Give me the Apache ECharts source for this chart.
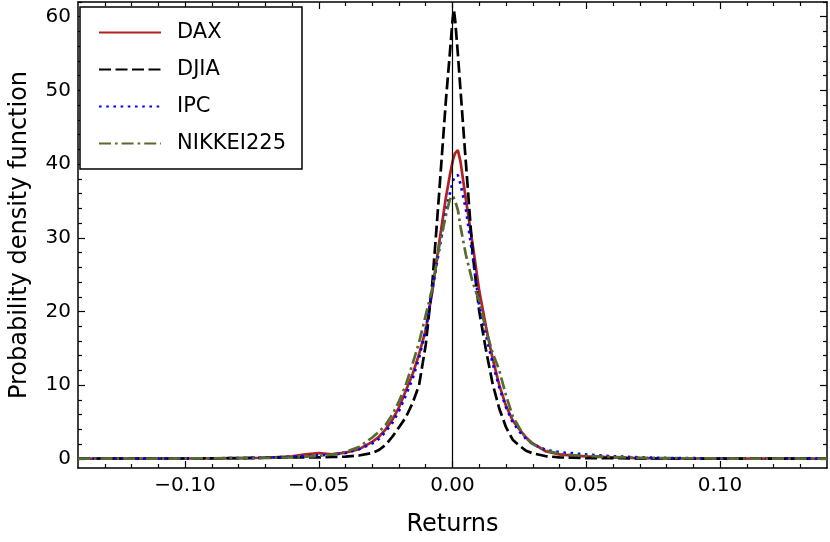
<!DOCTYPE html>
<html>
<head>
<meta charset="utf-8">
<script src="https://cdn.jsdelivr.net/npm/echarts@6/dist/echarts.min.js"></script>
<style>
  html, body { margin: 0; padding: 0; background: #fff; }
  #chart { width: 830px; height: 542px; }
</style>
</head>
<body>
<div id="chart"></div>
<script>
// returns grid (x) shared by all curves
const returns = [-0.14, -0.12, -0.10, -0.08, -0.07, -0.06, -0.055, -0.05, -0.045, -0.04,
  -0.035, -0.03, -0.0275, -0.025, -0.0225, -0.02, -0.0175, -0.015, -0.0125, -0.01,
  -0.0075, -0.005, -0.0025, -0.001, 0, 0.0005, 0.001, 0.002, 0.003, 0.005,
  0.0075, 0.01, 0.0125, 0.015, 0.0175, 0.02, 0.0225, 0.025, 0.0275, 0.03,
  0.035, 0.04, 0.045, 0.05, 0.06, 0.07, 0.08, 0.10, 0.12, 0.14];

const dax = [0.02, 0.03, 0.05, 0.1, 0.15, 0.35, 0.6, 0.8, 0.6, 0.85,
  1.3, 2.3, 3.0, 4.0, 5.3, 7.0, 9.2, 11.4, 14.2, 17.5,
  22.8, 29.3, 35.4, 38.5, 40.3, 41.0, 41.5, 41.9, 40.3, 35.2,
  29.2, 22.8, 18.0, 13.6, 10.0, 7.2, 5.2, 4.0, 2.9, 2.1,
  1.0, 0.6, 0.45, 0.35, 0.2, 0.1, 0.07, 0.05, 0.03, 0.02];

const djia = [0.05, 0.05, 0.05, 0.1, 0.15, 0.2, 0.2, 0.2, 0.25, 0.3,
  0.45, 0.8, 1.2, 1.9, 3.0, 4.3, 5.6, 7.5, 10.0, 15.5,
  24.0, 36.0, 48.5, 55.0, 59.5, 61.0, 59.5, 55.0, 50.0, 40.2,
  28.0, 20.0, 14.8, 10.2, 6.8, 4.3, 2.6, 1.8, 1.1, 0.75,
  0.35, 0.2, 0.15, 0.1, 0.1, 0.05, 0.05, 0.03, 0.02, 0.02];

const ipc = [0.02, 0.03, 0.05, 0.1, 0.15, 0.3, 0.4, 0.5, 0.55, 0.8,
  1.3, 2.1, 2.7, 3.7, 4.9, 6.5, 8.6, 10.8, 13.7, 17.5,
  23.1, 28.3, 33.5, 36.0, 37.5, 38.1, 38.4, 38.5, 37.3, 33.9,
  27.6, 20.8, 16.8, 13.0, 9.7, 7.0, 5.0, 3.7, 2.7, 2.0,
  1.2, 0.9, 0.75, 0.6, 0.35, 0.2, 0.12, 0.06, 0.04, 0.03];

const nikkei = [0.02, 0.03, 0.05, 0.1, 0.12, 0.2, 0.3, 0.4, 0.6, 0.95,
  1.6, 2.9, 3.7, 4.6, 6.0, 7.8, 10.0, 12.8, 15.8, 19.5,
  23.2, 28.8, 33.0, 35.2, 35.7, 35.4, 35.0, 33.8, 31.5, 27.7,
  24.0, 21.4, 17.5, 14.4, 12.0, 8.6, 5.8, 4.2, 2.8, 2.0,
  1.1, 0.7, 0.5, 0.4, 0.25, 0.15, 0.1, 0.05, 0.03, 0.02];

const names = ['DAX', 'DJIA', 'IPC', 'NIKKEI225'];
const xMajor = [-0.10, -0.05, 0, 0.05, 0.10];
const xMinor = [-0.13, -0.12, -0.11, -0.09, -0.08, -0.07, -0.06, -0.04, -0.03, -0.02, -0.01,
  0.01, 0.02, 0.03, 0.04, 0.06, 0.07, 0.08, 0.09, 0.11, 0.12, 0.13];
const yMajor = [0, 10, 20, 30, 40, 50, 60];
const yMinor = [2, 4, 6, 8, 12, 14, 16, 18, 22, 24, 26, 28, 32, 34, 36, 38, 42, 44, 46, 48, 52, 54, 56, 58, 62];

const font = 'DejaVu Sans';
const chart = echarts.init(document.getElementById('chart'));

function pairs(ys) {
  return returns.map((x, i) => [x, ys[i]]);
}

function xAx(pos, ticks, len, labels, line) {
  return {
    type: 'value', position: pos, min: -0.14, max: 0.14,
    name: labels ? 'Returns' : '', nameLocation: 'middle', nameGap: 45,
    nameTextStyle: { fontFamily: font, fontSize: 24, color: '#000' },
    splitLine: { show: false },
    axisLine: { show: line, onZero: false, lineStyle: { color: '#000', width: 1.5 } },
    axisTick: { show: true, inside: true, length: len, customValues: ticks, lineStyle: { color: '#000', width: 1.2 } },
    axisLabel: {
      show: labels, customValues: ticks, margin: 8, color: '#000', fontFamily: font, fontSize: 20,
      formatter: v => (v < -1e-9 ? '\u2212' : '') + Math.abs(v).toFixed(2)
    }
  };
}

function yAx(pos, ticks, len, labels, line) {
  return {
    type: 'value', position: pos, min: -1.24, max: 62,
    name: labels ? 'Probability density function' : '', nameLocation: 'middle', nameGap: 46,
    nameTextStyle: { fontFamily: font, fontSize: 24, color: '#000' },
    splitLine: { show: false },
    axisLine: { show: line, onZero: false, lineStyle: { color: '#000', width: 1.5 } },
    axisTick: { show: true, inside: true, length: len, customValues: ticks, lineStyle: { color: '#000', width: 1.2 } },
    axisLabel: { show: labels, customValues: ticks, margin: 7, color: '#000', fontFamily: font, fontSize: 20 }
  };
}

const styles = [
  { color: '#b22222', type: 'solid' },
  { color: '#000000', type: [12, 4.5] },
  { color: '#0000ff', type: [2.6, 4.6] },
  { color: '#556b2f', type: [12, 4, 2.6, 4] }
];
const sets = [dax, djia, ipc, nikkei];

const series = names.map((n, i) => ({
  name: n, type: 'line', data: pairs(sets[i]),
  xAxisIndex: 0, yAxisIndex: 0,
  showSymbol: false, symbol: 'none',
  lineStyle: { color: styles[i].color, type: styles[i].type, width: 2.7 },
  itemStyle: { color: styles[i].color }
}));
series[0].markLine = {
  silent: true, symbol: ['none', 'none'], animation: false,
  label: { show: false },
  lineStyle: { color: '#000', type: 'solid', width: 1.2 },
  data: [{ xAxis: 0 }]
};

chart.setOption({
  animation: false,
  backgroundColor: '#fff',
  grid: { left: 73, right: 3, top: 2, bottom: 74, containLabel: false },
  legend: {
    orient: 'vertical', left: 80, top: 7,
    padding: [15, 16, 15, 18],
    backgroundColor: '#fff', borderColor: '#000', borderWidth: 1.5, borderRadius: 0,
    itemWidth: 62, itemHeight: 14, itemGap: 16,
    itemStyle: { opacity: 0, borderWidth: 0 },
    textStyle: { fontFamily: font, fontSize: 21, color: '#000', lineHeight: 20, padding: [0, 0, 0, 11] },
    data: names
  },
  xAxis: [
    xAx('bottom', xMajor, 7, true, true),
    xAx('top', xMajor, 7, false, true),
    xAx('bottom', xMinor, 4, false, false),
    xAx('top', xMinor, 4, false, false)
  ],
  yAxis: [
    yAx('left', yMajor, 7, true, true),
    yAx('right', yMajor, 7, false, true),
    yAx('left', yMinor, 4, false, false),
    yAx('right', yMinor, 4, false, false)
  ],
  series: series
});
</script>
</body>
</html>
